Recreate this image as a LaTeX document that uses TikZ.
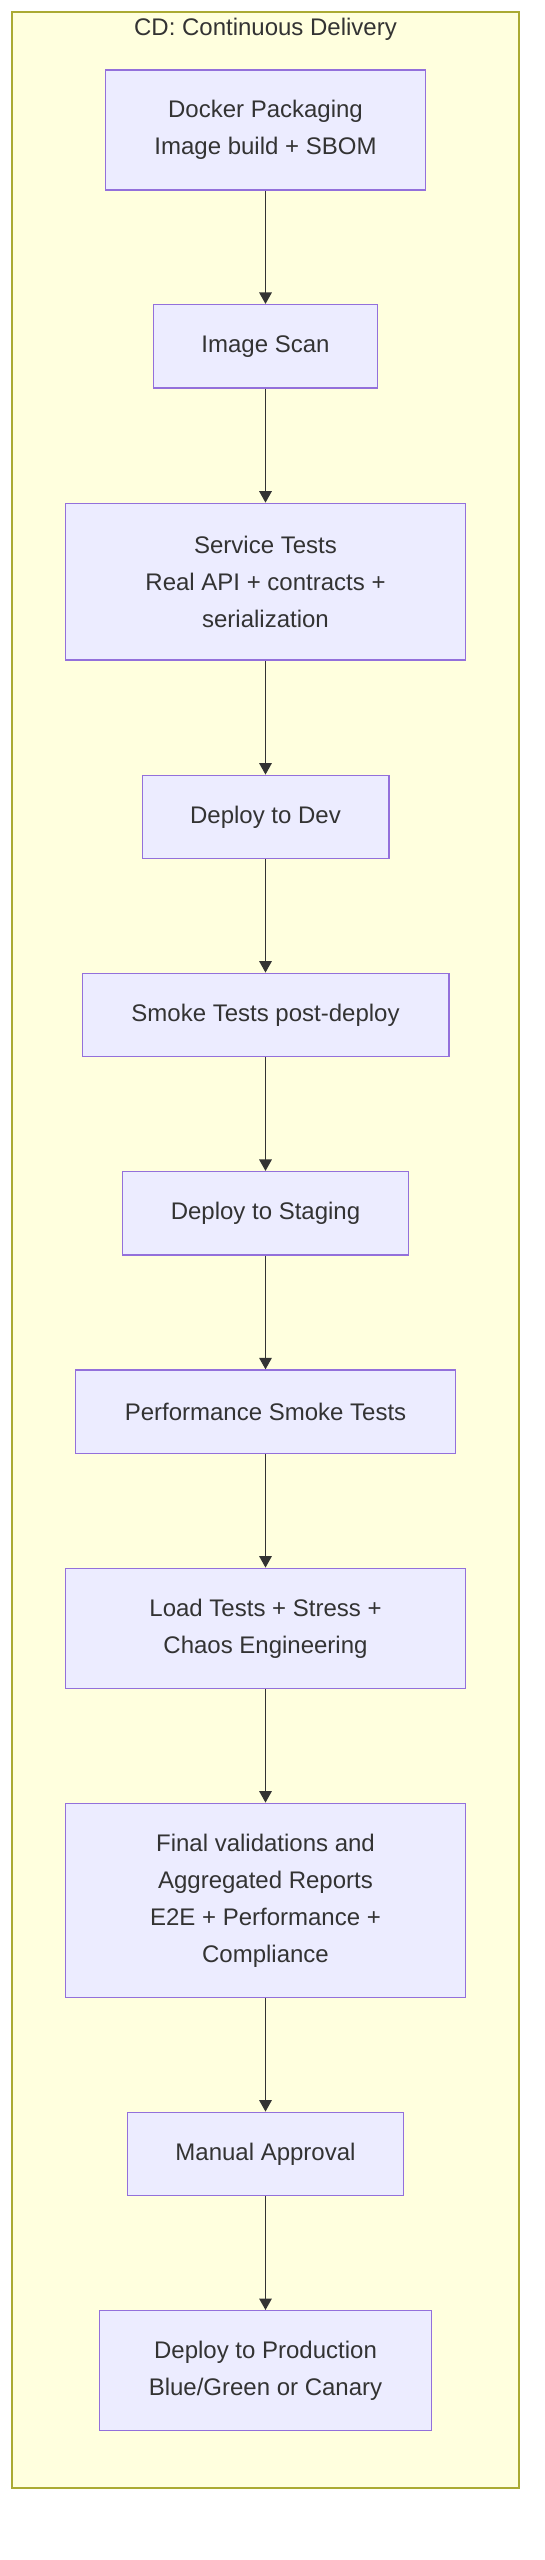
\documentclass[tikz,border=0pt]{standalone}
\usepackage{fontspec}
\setmainfont{Liberation Sans}
\usetikzlibrary{arrows.meta}
\definecolor{boxfill}{HTML}{ECECFF}
\definecolor{boxline}{HTML}{9370DB}
\definecolor{grpfill}{HTML}{FFFFDE}
\definecolor{grpline}{HTML}{AAAA33}
\definecolor{txt}{HTML}{333333}
\begin{document}
\begin{tikzpicture}[x=1pt,y=-1pt,
  stage/.style={draw=boxline, fill=boxfill, line width=1.4pt, text=txt,
    font=\fontsize{24}{37}\selectfont, align=center, inner sep=0pt},
  flow/.style={draw=txt, line width=1.5pt, -{Triangle[length=11.5pt,width=12.5pt]}},
  grp/.style={draw=grpline, fill=grpfill, line width=1.4pt},
  grptitle/.style={text=txt, font=\fontsize{24}{30}\selectfont, inner sep=0pt}]
\useasboundingbox (0,0) rectangle (544,2560);
\fill[white] (0,0) rectangle (544,2560);
\draw[grp] (12,12) rectangle (519,2488);
\node[grptitle] (title) at (265.5,29) {CD: Continuous Delivery};

\node[stage, minimum width=320pt, minimum height=120pt] (n1) at (265.5,130) {Docker Packaging\\Image build + SBOM};
\node[stage, minimum width=224pt, minimum height=83.3pt] (n2) at (265.5,346.3) {Image Scan};
\node[stage, minimum width=400pt, minimum height=156.7pt] (n3) at (265.5,581.7) {Service Tests\\Real API + contracts +\\serialization};
\node[stage, minimum width=246.6pt, minimum height=83pt] (n4) at (265.5,816.8) {Deploy to Dev};
\node[stage, minimum width=366.6pt, minimum height=83.4pt] (n5) at (265.5,1015) {Smoke Tests post-deploy};
\node[stage, minimum width=286.5pt, minimum height=83.3pt] (n6) at (265.5,1213.3) {Deploy to Staging};
\node[stage, minimum width=380pt, minimum height=83.3pt] (n7) at (265.5,1411.7) {Performance Smoke Tests};
\node[stage, minimum width=400pt, minimum height=120pt] (n8) at (265.5,1628.3) {Load Tests + Stress +\\Chaos Engineering};
\node[stage, minimum width=400pt, minimum height=194pt] (n9) at (265.5,1900.3) {Final validations and\\Aggregated Reports\\E2E + Performance +\\Compliance};
\node[stage, minimum width=275.5pt, minimum height=83.4pt] (n10) at (265.5,2154) {Manual Approval};
\node[stage, minimum width=332pt, minimum height=120pt] (n11) at (265.5,2370.7) {Deploy to Production\\Blue/Green or Canary};

\draw[flow] (n1) -- (n2);
\draw[flow] (n2) -- (n3);
\draw[flow] (n3) -- (n4);
\draw[flow] (n4) -- (n5);
\draw[flow] (n5) -- (n6);
\draw[flow] (n6) -- (n7);
\draw[flow] (n7) -- (n8);
\draw[flow] (n8) -- (n9);
\draw[flow] (n9) -- (n10);
\draw[flow] (n10) -- (n11);
\end{tikzpicture}
\end{document}
